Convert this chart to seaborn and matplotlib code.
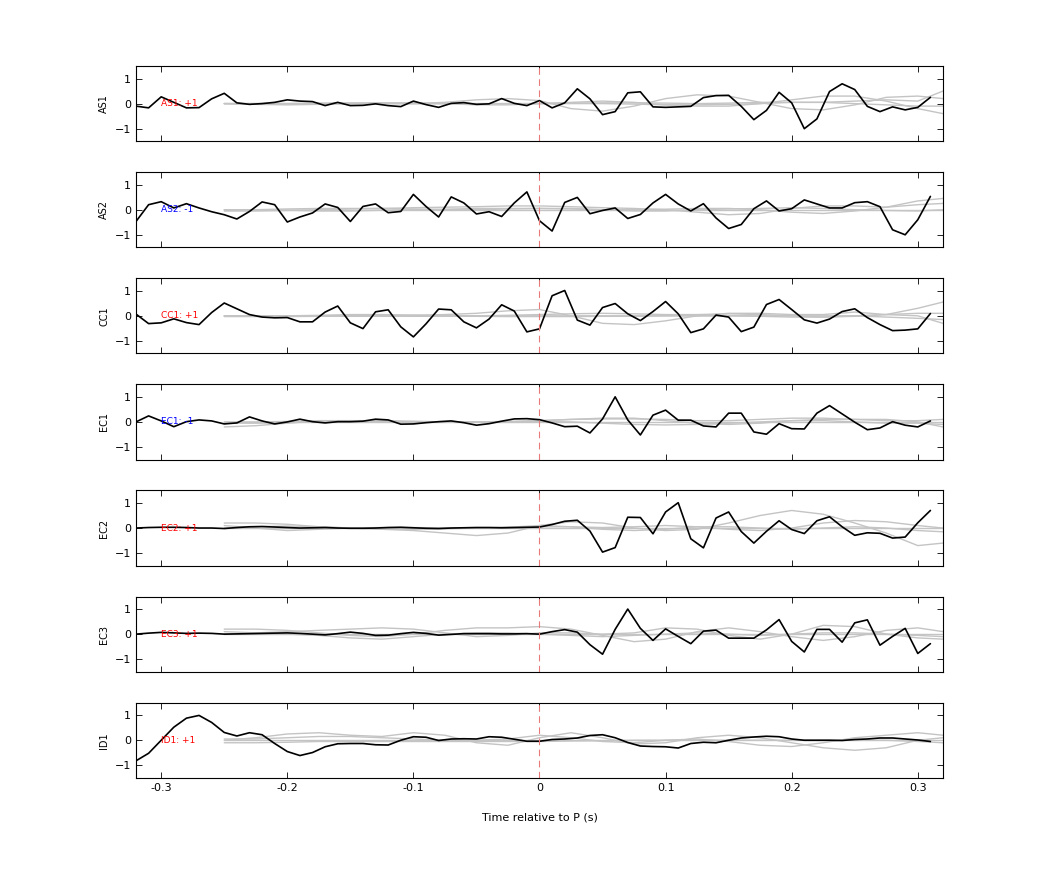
import numpy as np
import pandas as pd
import matplotlib
matplotlib.use("Agg")
import matplotlib.pyplot as plt
import seaborn as sns

sns.set_theme(style="white")
plt.rcParams['font.family'] = ['DejaVu Sans']
plt.rcParams['text.color'] = 'black'
plt.rcParams['axes.labelcolor'] = 'black'
plt.rcParams['xtick.color'] = 'black'
plt.rcParams['ytick.color'] = 'black'

channels = ["AS1", "AS2", "CC1", "EC1", "EC2", "EC3", "ID1"]
polarity = ["AS1: +1", "AS2: -1", "CC1: +1", "EC1: -1", "EC2: +1", "EC3: +1", "ID1: +1"]
label_colors = ["red", "blue", "red", "blue", "red", "red", "red"]

time_black = [round(-0.32 + 0.01 * i, 2) for i in range(64)]

as1 = [-0.1, -0.17, 0.27, 0.05, -0.17, -0.16, 0.19, 0.41, 0.03, -0.03, 0.0, 0.05, 0.15, 0.1, 0.08, -0.08,
       0.05, -0.08, -0.07, -0.01, -0.08, -0.12, 0.1, -0.04, -0.15, 0.01, 0.04, -0.03, -0.01, 0.2, 0.01, -0.08,
       0.12, -0.17, 0.03, 0.59, 0.19, -0.44, -0.32, 0.43, 0.47, -0.13, -0.15, -0.13, -0.11, 0.24, 0.32, 0.33,
       -0.11, -0.64, -0.27, 0.45, 0.03, -1.0, -0.61, 0.48, 0.79, 0.56, -0.11, -0.32, -0.13, -0.25, -0.15, 0.25]
as2 = [-0.47, 0.2, 0.32, 0.07, 0.24, 0.07, -0.08, -0.2, -0.37, -0.07, 0.31, 0.2, -0.49, -0.29, -0.13, 0.23,
       0.09, -0.47, 0.13, 0.23, -0.12, -0.07, 0.61, 0.13, -0.29, 0.51, 0.27, -0.17, -0.08, -0.27, 0.27, 0.71,
       -0.44, -0.85, 0.29, 0.49, -0.16, -0.03, 0.07, -0.35, -0.19, 0.27, 0.61, 0.23, -0.05, 0.24, -0.33, -0.75,
       -0.59, 0.04, 0.35, -0.05, 0.04, 0.39, 0.23, 0.07, 0.07, 0.28, 0.32, 0.12, -0.8, -1.0, -0.4, 0.53]
cc1 = [0.07, -0.31, -0.28, -0.12, -0.27, -0.35, 0.13, 0.51, 0.28, 0.05, -0.05, -0.08, -0.07, -0.24, -0.24, 0.15,
       0.39, -0.28, -0.51, 0.16, 0.24, -0.44, -0.84, -0.32, 0.27, 0.24, -0.24, -0.48, -0.13, 0.44, 0.19, -0.64,
       -0.52, 0.8, 1.01, -0.17, -0.37, 0.33, 0.49, 0.08, -0.19, 0.17, 0.57, 0.08, -0.67, -0.52, 0.03, -0.05,
       -0.63, -0.45, 0.45, 0.65, 0.25, -0.16, -0.29, -0.13, 0.17, 0.28, -0.07, -0.35, -0.59, -0.57, -0.52, 0.09]
ec1 = [0.0, 0.24, 0.04, -0.19, 0.01, 0.08, 0.04, -0.08, -0.04, 0.2, 0.04, -0.08, 0.0, 0.11, 0.01, -0.04,
       0.01, 0.01, 0.03, 0.11, 0.08, -0.09, -0.08, -0.03, 0.01, 0.04, -0.03, -0.13, -0.07, 0.03, 0.12, 0.13,
       0.09, -0.04, -0.19, -0.17, -0.44, 0.12, 1.0, 0.08, -0.52, 0.27, 0.47, 0.07, 0.07, -0.16, -0.2, 0.35,
       0.35, -0.4, -0.49, -0.07, -0.27, -0.28, 0.35, 0.65, 0.32, -0.01, -0.31, -0.24, 0.01, -0.13, -0.2, 0.04]
ec2 = [0.0, 0.02, 0.03, 0.03, 0.02, 0.0, 0.0, -0.02, 0.02, 0.05, 0.06, 0.04, 0.02, 0.0, 0.01, 0.02,
       0.0, -0.01, -0.01, 0.0, 0.02, 0.03, 0.01, -0.01, -0.02, 0.0, 0.01, 0.02, 0.02, 0.01, 0.02, 0.03,
       0.04, 0.14, 0.27, 0.31, -0.12, -0.96, -0.78, 0.43, 0.42, -0.23, 0.64, 1.01, -0.43, -0.79, 0.4, 0.64,
       -0.14, -0.6, -0.13, 0.29, -0.06, -0.22, 0.29, 0.45, 0.05, -0.29, -0.19, -0.21, -0.4, -0.36, 0.21, 0.7]
ec3 = [0.0, 0.04, 0.07, 0.05, 0.03, 0.04, 0.03, 0.0, 0.01, 0.02, 0.03, 0.04, 0.05, 0.03, 0.0, -0.03,
       0.02, 0.08, 0.03, -0.05, -0.04, 0.02, 0.07, 0.03, -0.04, -0.01, 0.02, 0.02, 0.02, 0.01, 0.01, 0.02,
       0.0, 0.1, 0.18, 0.08, -0.42, -0.8, 0.19, 1.0, 0.23, -0.25, 0.21, -0.09, -0.38, 0.12, 0.16, -0.16,
       -0.16, -0.16, 0.17, 0.58, -0.29, -0.71, 0.19, 0.19, -0.32, 0.45, 0.57, -0.44, -0.09, 0.23, -0.77, -0.38]
id1 = [-0.82, -0.52, 0.0, 0.52, 0.88, 0.99, 0.71, 0.31, 0.17, 0.3, 0.22, -0.13, -0.45, -0.61, -0.49, -0.26,
       -0.14, -0.13, -0.13, -0.18, -0.19, 0.0, 0.14, 0.12, -0.01, 0.05, 0.06, 0.05, 0.14, 0.12, 0.04, -0.04,
       -0.04, 0.03, 0.05, 0.09, 0.19, 0.22, 0.1, -0.09, -0.23, -0.25, -0.26, -0.31, -0.13, -0.08, -0.1, 0.0,
       0.09, 0.13, 0.16, 0.14, 0.05, 0.0, 0.0, 0.0, -0.01, 0.03, 0.05, 0.09, 0.09, 0.05, 0.01, -0.05]
black_series = [as1, as2, cc1, ec1, ec2, ec3, id1]

time_grey = [-0.25, -0.225, -0.2, -0.175, -0.15, -0.125, -0.1, -0.075, -0.05, -0.025, 0.0, 0.025, 0.05,
             0.075, 0.1, 0.125, 0.15, 0.175, 0.2, 0.225, 0.25, 0.275, 0.3, 0.32]
grey_series = [
    [[0.0, 0.0, 0.0, 0.02, 0.03, 0.02, 0.0, 0.05, 0.15, 0.2, 0.12, -0.2, -0.3, -0.1, 0.2, 0.35, 0.3, 0.05, -0.2, -0.25, -0.05, 0.25, 0.3, 0.2],
     [0.0, -0.03, -0.05, -0.03, 0.0, 0.03, 0.03, 0.0, -0.05, -0.05, 0.0, 0.05, 0.1, 0.05, -0.05, -0.1, -0.1, 0.0, 0.15, 0.3, 0.3, 0.1, -0.2, -0.4],
     [0.0, 0.0, 0.0, 0.0, 0.0, 0.0, 0.0, 0.0, 0.0, 0.0, 0.0, 0.02, 0.03, 0.03, 0.02, 0.0, 0.02, 0.05, 0.05, 0.05, 0.1, 0.15, 0.1, 0.5],
     [0.0, 0.0, 0.0, 0.0, 0.0, 0.0, 0.0, 0.0, 0.0, 0.0, 0.0, 0.0, 0.0, -0.02, -0.05, -0.05, -0.03, 0.0, 0.05, 0.05, 0.0, -0.05, -0.1, -0.1]],
    [[0.0, 0.0, 0.03, 0.05, 0.05, 0.05, 0.08, 0.1, 0.12, 0.15, 0.15, 0.12, 0.08, 0.05, 0.0, -0.1, -0.2, -0.15, 0.05, 0.15, 0.15, 0.1, 0.35, 0.45],
     [0.0, 0.0, -0.02, -0.05, -0.05, -0.02, 0.0, 0.02, 0.05, 0.05, 0.05, 0.03, 0.0, 0.0, 0.02, 0.05, 0.05, 0.0, -0.1, -0.15, -0.05, 0.1, 0.2, 0.25],
     [-0.05, -0.05, -0.03, 0.0, 0.03, 0.05, 0.03, 0.0, 0.0, 0.03, 0.05, 0.05, 0.0, -0.05, -0.05, 0.0, 0.03, 0.05, 0.08, 0.05, 0.0, -0.03, -0.05, 0.0],
     [0.0, 0.0, 0.0, 0.0, 0.0, 0.0, 0.0, 0.0, 0.0, 0.0, 0.0, 0.0, 0.0, 0.0, 0.0, 0.0, 0.0, 0.0, 0.0, 0.0, 0.0, 0.0, 0.0, 0.0]],
    [[0.0, 0.0, 0.0, 0.0, 0.0, 0.0, 0.02, 0.05, 0.1, 0.2, 0.25, 0.0, -0.3, -0.35, -0.2, 0.0, 0.1, 0.1, 0.05, 0.05, 0.15, 0.05, 0.3, 0.55],
     [0.0, 0.0, 0.0, 0.02, 0.05, 0.05, 0.03, 0.0, 0.0, 0.02, 0.05, 0.08, 0.1, 0.08, 0.05, 0.05, 0.08, 0.05, 0.0, -0.05, 0.0, 0.05, 0.0, -0.3],
     [-0.03, -0.03, -0.03, -0.02, -0.02, -0.02, -0.02, -0.02, -0.02, -0.03, -0.03, -0.03, -0.02, -0.02, 0.0, 0.0, 0.0, -0.02, -0.05, -0.05, -0.02, 0.05, 0.1, 0.1],
     [0.0, 0.0, 0.0, 0.0, 0.0, 0.0, 0.0, 0.0, 0.0, 0.0, 0.0, 0.0, 0.0, 0.0, 0.0, 0.0, 0.0, 0.0, 0.0, 0.0, 0.0, -0.05, -0.1, -0.15]],
    [[-0.2, -0.15, -0.05, 0.05, 0.05, 0.03, 0.0, 0.0, 0.0, 0.02, 0.05, 0.1, 0.15, 0.15, 0.05, -0.05, -0.1, -0.05, 0.05, 0.1, 0.1, 0.1, 0.0, -0.2],
     [0.0, 0.0, 0.02, 0.05, 0.05, 0.05, 0.03, 0.0, 0.0, 0.0, 0.02, 0.0, -0.05, -0.1, -0.12, -0.1, -0.05, 0.0, 0.05, 0.05, 0.0, -0.05, -0.05, -0.1],
     [-0.05, -0.05, -0.03, 0.0, 0.0, 0.0, 0.0, 0.0, 0.0, 0.0, 0.05, 0.1, 0.12, 0.12, 0.1, 0.05, 0.05, 0.1, 0.15, 0.15, 0.1, 0.05, 0.05, 0.1],
     [0.0, 0.0, 0.0, 0.0, 0.0, 0.0, 0.0, 0.0, 0.0, 0.0, 0.0, 0.0, 0.0, 0.0, 0.0, 0.0, 0.0, 0.0, 0.0, 0.0, 0.0, 0.0, 0.0, 0.0]],
    [[0.2, 0.2, 0.15, 0.05, 0.0, -0.05, -0.1, -0.2, -0.3, -0.2, 0.1, 0.25, 0.2, 0.0, -0.1, -0.05, 0.2, 0.5, 0.7, 0.55, 0.2, -0.2, -0.7, -0.6],
     [0.0, 0.05, 0.08, 0.05, 0.0, -0.03, -0.05, -0.03, 0.0, 0.03, 0.05, 0.05, 0.02, 0.05, 0.1, 0.05, -0.05, -0.1, 0.0, 0.2, 0.3, 0.25, 0.1, 0.0],
     [0.1, 0.0, -0.1, -0.05, 0.0, 0.02, 0.02, 0.0, 0.0, 0.03, 0.1, 0.05, -0.05, -0.1, -0.05, 0.05, 0.05, 0.0, -0.05, 0.0, 0.05, 0.0, -0.1, -0.15],
     [0.0, 0.0, 0.0, 0.0, 0.0, 0.0, 0.0, 0.0, 0.0, 0.0, 0.0, 0.0, 0.0, 0.0, 0.0, 0.0, 0.0, 0.0, 0.0, 0.0, 0.0, 0.0, 0.0, 0.0]],
    [[0.2, 0.2, 0.15, 0.05, -0.05, -0.1, 0.0, 0.15, 0.25, 0.25, 0.3, 0.2, -0.05, -0.3, -0.2, 0.1, 0.25, 0.1, -0.1, -0.25, -0.1, 0.15, 0.25, 0.1],
     [0.0, 0.05, 0.1, 0.15, 0.2, 0.25, 0.2, 0.05, -0.1, -0.05, 0.05, 0.05, 0.0, 0.05, 0.25, 0.2, -0.05, -0.2, 0.0, 0.35, 0.3, 0.0, -0.15, -0.2],
     [0.1, 0.05, 0.0, -0.05, -0.15, -0.2, -0.1, 0.0, 0.05, 0.05, 0.0, -0.05, -0.1, -0.05, 0.0, 0.05, 0.0, -0.05, 0.0, 0.05, 0.05, 0.0, -0.05, -0.1],
     [0.0, 0.0, 0.0, 0.0, 0.0, 0.0, 0.0, 0.0, 0.0, 0.0, 0.0, 0.0, 0.0, 0.0, 0.0, 0.0, 0.0, 0.0, 0.0, 0.0, 0.0, 0.0, 0.0, 0.0]],
    [[0.0, 0.1, 0.25, 0.3, 0.2, 0.15, 0.3, 0.2, -0.1, -0.2, 0.1, 0.3, 0.1, -0.15, -0.1, 0.1, 0.2, 0.1, -0.1, -0.3, -0.4, -0.3, 0.0, 0.1],
     [0.05, 0.05, 0.1, 0.15, 0.15, 0.1, 0.05, 0.0, 0.0, 0.05, 0.2, 0.1, -0.05, -0.1, 0.0, 0.05, -0.05, -0.2, -0.25, -0.1, 0.1, 0.2, 0.3, 0.2],
     [-0.1, -0.1, -0.08, -0.05, -0.05, -0.05, -0.05, -0.05, -0.05, -0.05, -0.05, -0.03, -0.02, 0.0, 0.0, 0.0, 0.0, 0.0, 0.0, 0.0, 0.0, 0.0, -0.05, -0.1],
     [0.0, 0.0, 0.0, 0.0, 0.0, 0.0, 0.0, 0.0, 0.0, 0.0, 0.0, 0.0, 0.0, 0.0, 0.0, 0.0, 0.0, 0.0, 0.0, 0.0, 0.0, 0.0, 0.0, 0.0]],
]

fig, axes = plt.subplots(7, 1, figsize=(10.42, 8.75), dpi=100, sharex=True,
                         gridspec_kw=dict(hspace=0.41))
fig.subplots_adjust(left=0.1305, right=0.905, top=0.9246, bottom=0.111)

for i, ax in enumerate(axes):
    for g in grey_series[i]:
        sns.lineplot(x=time_grey, y=g, ax=ax, color="#c4c4c4", linewidth=1.0)
    sns.lineplot(x=time_black, y=black_series[i], ax=ax, color="black", linewidth=1.2)
    ax.axvline(0, color="#e87a7a", linestyle=(0, (6, 4)), linewidth=0.8)
    ax.set_xlim(-0.32, 0.32)
    ax.set_ylim(-1.5, 1.5)
    ax.set_yticks([-1, 0, 1])
    ax.set_xticks([-0.3, -0.2, -0.1, 0, 0.1, 0.2, 0.3])
    ax.set_xticklabels(["-0.3", "-0.2", "-0.1", "0", "0.1", "0.2", "0.3"])
    ax.tick_params(direction="in", top=True, right=True, labelsize=8, length=4,
                   bottom=True, left=True, width=0.6, colors="black")
    ax.set_ylabel(channels[i], fontsize=7, color="black")
    for s in ax.spines.values():
        s.set_color("black")
        s.set_linewidth(0.8)
    ax.text(-0.3, 0, polarity[i], color=label_colors[i], fontsize=6.5, va="center", ha="left")

axes[-1].set_xlabel("Time relative to P (s)", fontsize=8, labelpad=14, color="black")
fig.savefig("out.png", dpi=100)
